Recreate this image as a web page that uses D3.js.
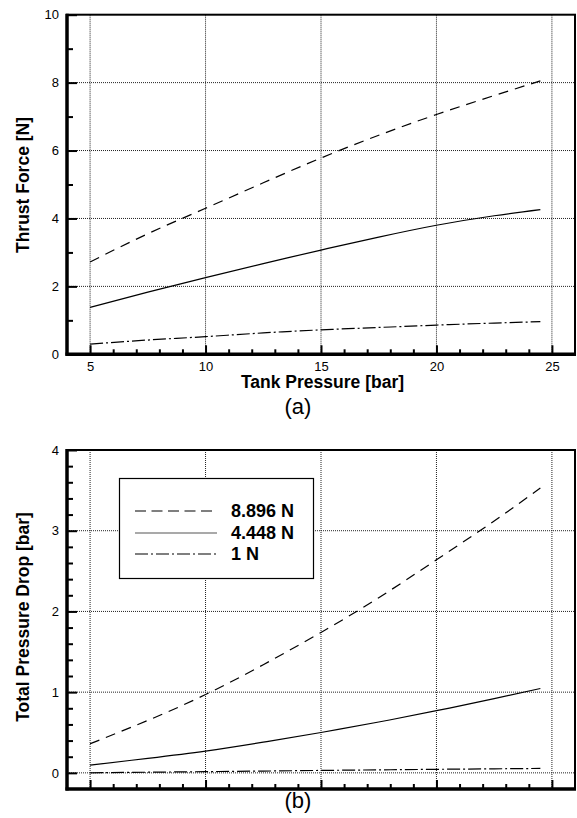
<!DOCTYPE html>
<html>
<head>
<meta charset="utf-8">
<script src="https://cdn.jsdelivr.net/npm/d3@7"></script>
<style>
  html, body { margin: 0; padding: 0; background: #fff; }
  svg { display: block; font-family: "Liberation Sans", Arial, sans-serif; }
</style>
</head>
<body>
<svg id="chart" width="577" height="818"></svg>
<script>
// ---- data ----
const tankPressure = [5, 7.5, 10, 12.5, 15, 17.5, 20, 22.5, 24.5];
const seriesNames = ["8.896 N", "4.448 N", "1 N"];

const thrust_8896 = [2.72, 3.55, 4.30, 5.05, 5.78, 6.45, 7.06, 7.62, 8.05];
const thrust_4448 = [1.38, 1.83, 2.26, 2.67, 3.07, 3.45, 3.80, 4.08, 4.26];
const thrust_1    = [0.30, 0.42, 0.52, 0.63, 0.72, 0.79, 0.86, 0.92, 0.96];

const drop_8896 = [0.36, 0.65, 0.97, 1.34, 1.74, 2.17, 2.64, 3.12, 3.53];
const drop_4448 = [0.095, 0.18, 0.27, 0.38, 0.50, 0.63, 0.77, 0.92, 1.045];
const drop_1    = [0.0, 0.008, 0.015, 0.022, 0.030, 0.037, 0.044, 0.050, 0.055];

const xMajorTicks = [5, 10, 15, 20, 25];
const topYMajor = [0, 2, 4, 6, 8, 10];
const botYMajor = [0, 1, 2, 3, 4];

// ---- layout ----
const svg = d3.select("#chart");
const dashStyles = ["10,7", null, "13,3,2,3"];
const FONT = '"Liberation Sans", Arial, sans-serif';

const x = d3.scaleLinear().domain([4, 26]).range([67, 575]);

function drawPanel(opts) {
  const y = opts.y;
  const g = svg.append("g");
  const [x0, x1] = x.range();
  const [yb, yt] = y.range();

  // grid
  g.selectAll(".vg").data(xMajorTicks).join("line")
    .attr("x1", d => x(d)).attr("x2", d => x(d))
    .attr("y1", yt).attr("y2", yb)
    .attr("stroke", "#222").attr("stroke-width", 1).attr("stroke-dasharray", "1,1");
  g.selectAll(".hg").data(opts.gridY).join("line")
    .attr("x1", x0).attr("x2", x1)
    .attr("y1", d => y(d)).attr("y2", d => y(d))
    .attr("stroke", "#222").attr("stroke-width", 1).attr("stroke-dasharray", "1,1");

  // curves
  const line = d3.line()
    .x((d, i) => x(tankPressure[i]))
    .y(d => y(d))
    .curve(d3.curveNatural);
  opts.series.forEach((s, i) => {
    g.append("path").attr("d", line(s))
      .attr("fill", "none").attr("stroke", "#000").attr("stroke-width", 1.2)
      .attr("stroke-dasharray", dashStyles[i]);
  });

  // axes (ticks inward)
  const minorX = d3.range(5, 26, 1).filter(v => !xMajorTicks.includes(v));
  const xMaj = d3.axisBottom(x).tickValues(xMajorTicks).tickSize(-9).tickPadding(7)
    .tickFormat(opts.xLabels ? d3.format("d") : () => "");
  const xMin = d3.axisBottom(x).tickValues(minorX).tickSize(-5).tickFormat(() => "");
  const yMaj = d3.axisLeft(y).tickValues(opts.yMajor).tickSize(-10).tickPadding(8).tickFormat(d3.format("d"));
  const yMin = d3.axisLeft(y).tickValues(opts.yMinor).tickSize(-6).tickFormat(() => "");

  const axG = [
    g.append("g").attr("transform", `translate(0,${yb})`).call(xMaj),
    g.append("g").attr("transform", `translate(0,${yb})`).call(xMin),
    g.append("g").attr("transform", `translate(${x0},0)`).call(yMaj),
    g.append("g").attr("transform", `translate(${x0},0)`).call(yMin)
  ];
  axG.forEach(a => {
    a.select(".domain").remove();
    a.selectAll(".tick line").attr("stroke", "#000").attr("stroke-width", 2);
    a.selectAll(".tick text").attr("font-size", 13).attr("font-family", FONT).attr("fill", "#000");
  });

  // frame
  g.append("rect").attr("x", x0).attr("y", yt).attr("width", x1 - x0).attr("height", yb - yt)
    .attr("fill", "none").attr("stroke", "#000").attr("stroke-width", 2);
  g.append("line").attr("x1", x0).attr("x2", x0).attr("y1", yt - 1).attr("y2", yb + 1.5)
    .attr("stroke", "#000").attr("stroke-width", 3.5);
  g.append("line").attr("x1", x0 - 1.5).attr("x2", x1 + 1).attr("y1", yb).attr("y2", yb)
    .attr("stroke", "#000").attr("stroke-width", 3.5);

  // y axis title
  g.append("text")
    .attr("transform", `translate(29,${opts.yTitleCenter}) rotate(-90)`)
    .attr("text-anchor", "middle").attr("font-weight", "bold").attr("font-size", 17.5)
    .attr("font-family", FONT).text(opts.yTitle);

  return g;
}

// top panel
const yTop = d3.scaleLinear().domain([0, 10]).range([354.3, 14.7]);
drawPanel({
  y: yTop,
  series: [thrust_8896, thrust_4448, thrust_1],
  gridY: [2, 4, 6, 8],
  yMajor: topYMajor,
  yMinor: [1, 3, 5, 7, 9],
  xLabels: true,
  yTitle: "Thrust Force [N]",
  yTitleCenter: 185
});
svg.append("text").attr("x", 322.5).attr("y", 388)
  .attr("text-anchor", "middle").attr("font-weight", "bold").attr("font-size", 17.5)
  .attr("font-family", FONT).text("Tank Pressure [bar]");
svg.append("text").attr("x", 298).attr("y", 413.5)
  .attr("text-anchor", "middle").attr("font-size", 22)
  .attr("font-family", FONT).text("(a)");

// bottom panel
const yBot = d3.scaleLinear().domain([-0.2, 4]).range([789, 450]);
drawPanel({
  y: yBot,
  series: [drop_8896, drop_4448, drop_1],
  gridY: [0, 1, 2, 3],
  yMajor: botYMajor,
  yMinor: d3.range(0.2, 4, 0.2).filter(v => Math.abs(v - Math.round(v)) > 1e-6),
  xLabels: false,
  yTitle: "Total Pressure Drop [bar]",
  yTitleCenter: 617
});
svg.append("text").attr("x", 298).attr("y", 808)
  .attr("text-anchor", "middle").attr("font-size", 22)
  .attr("font-family", FONT).text("(b)");

// legend
const lg = svg.append("g");
lg.append("rect").attr("x", 119.5).attr("y", 478.5).attr("width", 194).attr("height", 100)
  .attr("fill", "#fff").attr("stroke", "#000").attr("stroke-width", 1.2);
const rowsY = [511, 533, 554];
seriesNames.forEach((name, i) => {
  lg.append("line").attr("x1", 135).attr("x2", 217).attr("y1", rowsY[i]).attr("y2", rowsY[i])
    .attr("stroke", i === 1 ? "#555" : "#000").attr("stroke-width", 1.2)
    .attr("stroke-dasharray", i === 0 ? "11,5.5" : (i === 2 ? "13,3,2,3" : null));
  lg.append("text").attr("x", 231).attr("y", rowsY[i]).attr("dy", "0.36em")
    .attr("font-weight", "bold").attr("font-size", 18).attr("font-family", FONT).text(name);
});
</script>
</body>
</html>
